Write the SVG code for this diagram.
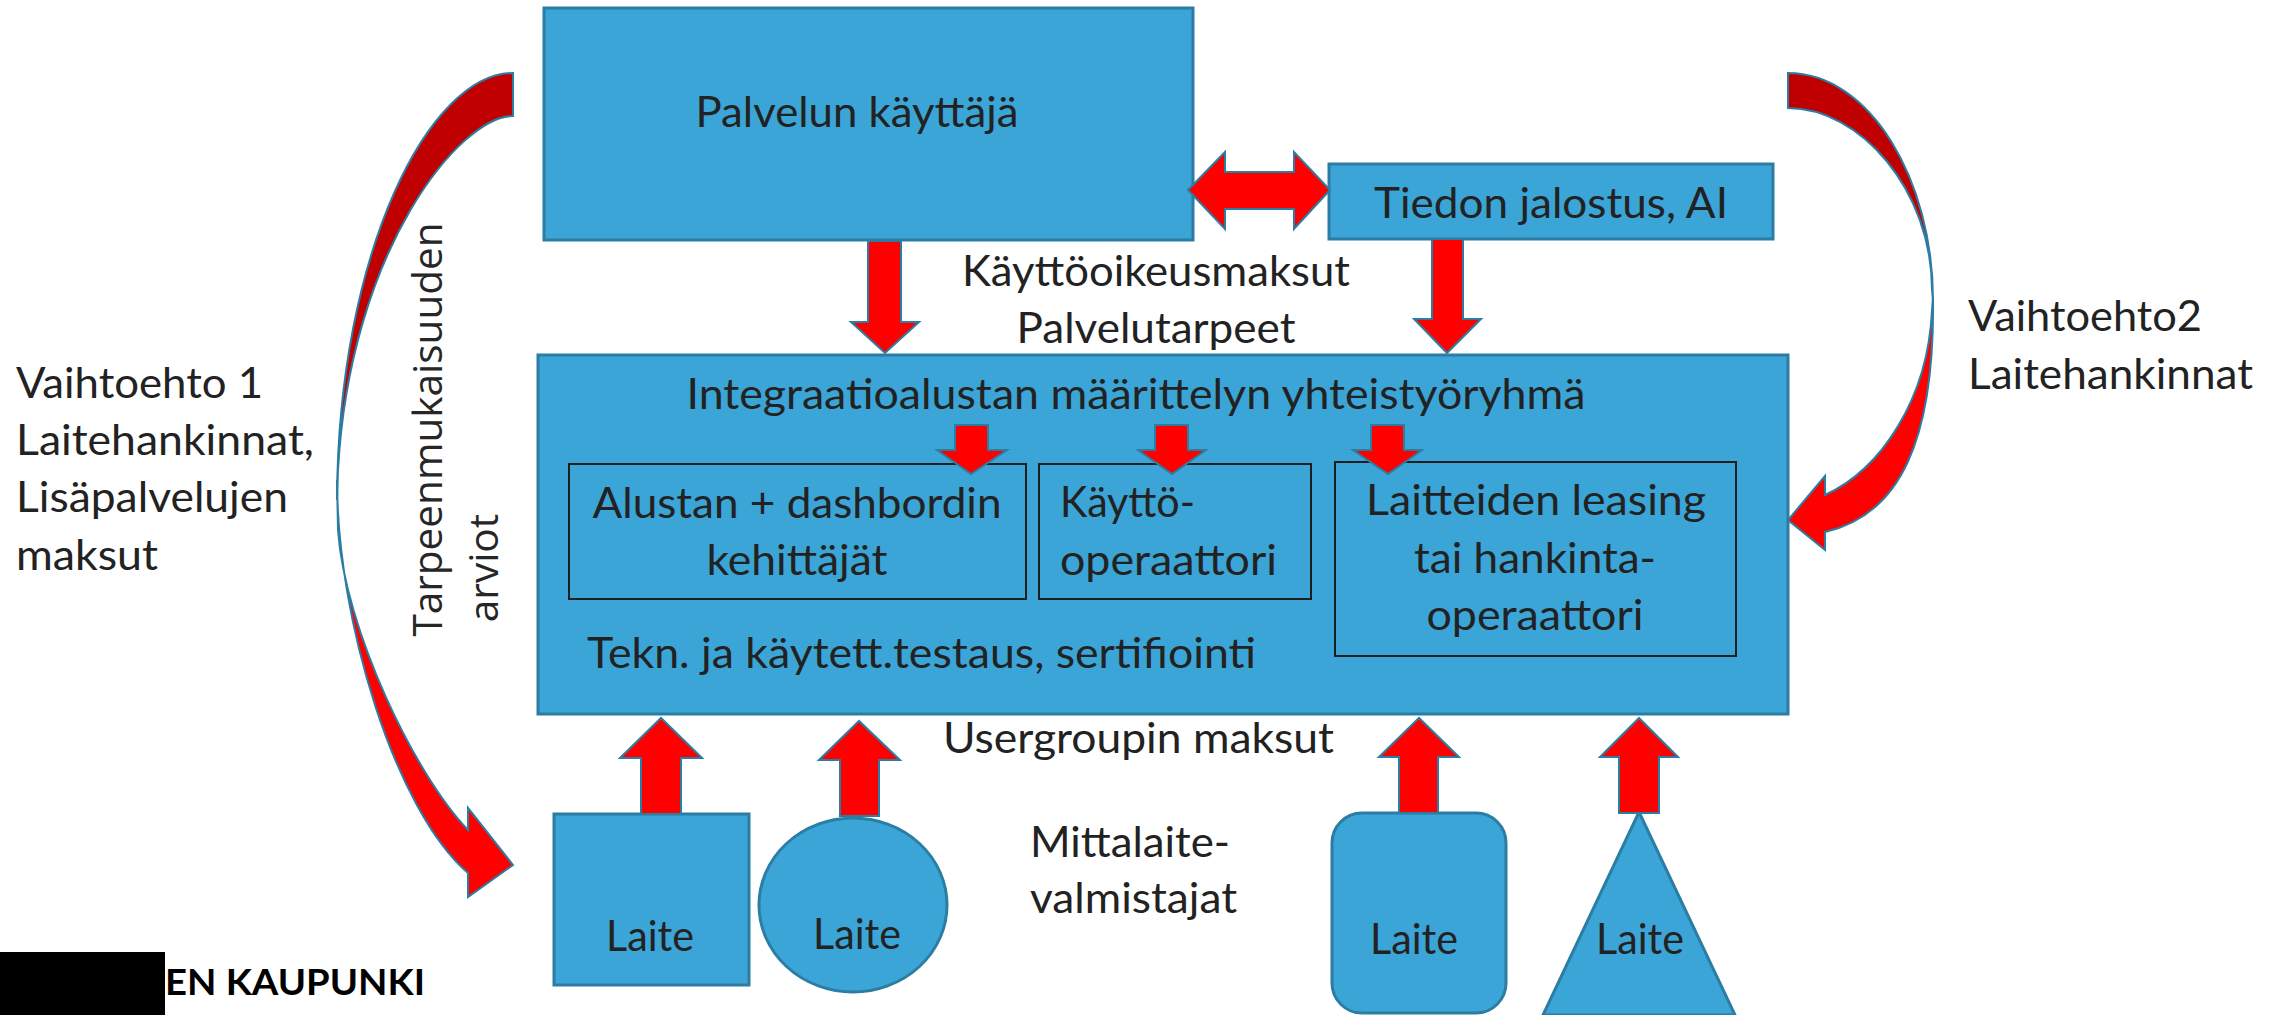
<svg xmlns="http://www.w3.org/2000/svg" width="2279" height="1015" viewBox="0 0 2279 1015">
<style>
.box{fill:#3AA5D6;stroke:#2C7DA3;stroke-width:3}
.inner{fill:none;stroke:#1E1E1E;stroke-width:2}
.arr{fill:#FF0000;stroke:#2C7DA3;stroke-width:2;stroke-linejoin:miter}
.back{fill:#C00000;stroke:#2C7DA3;stroke-width:2}
.t{font-family:Lato,"Liberation Sans",sans-serif;font-size:42px;fill:#222222}
.c{text-anchor:middle}
.v{font-family:"Open Sans","Liberation Sans",sans-serif;font-size:40.5px;fill:#262626;text-anchor:middle}
</style>
<rect width="2279" height="1015" fill="#FFFFFF"/>

<g id="palvelun-kayttaja">
<rect class="box" x="544" y="8" width="649" height="232"/>
<text class="t c" x="857" y="127" textLength="323" lengthAdjust="spacingAndGlyphs">Palvelun käyttäjä</text>
</g>

<g id="tiedon-jalostus">
<rect class="box" x="1329" y="164" width="444" height="75"/>
<text class="t c" x="1551" y="218" textLength="354" lengthAdjust="spacingAndGlyphs">Tiedon jalostus, AI</text>
</g>

<g id="integraatio">
<rect class="box" x="538" y="355" width="1250" height="359"/>
<text class="t c" x="1136" y="409" textLength="899" lengthAdjust="spacingAndGlyphs">Integraatioalustan määrittelyn yhteistyöryhmä</text>
<text class="t" x="587" y="668" textLength="669" lengthAdjust="spacingAndGlyphs">Tekn. ja käytett.testaus, sertifiointi</text>
</g>

<g id="alustan-kehittajat">
<rect class="inner" x="569" y="464" width="457" height="135"/>
<text class="t c" x="797" y="518" textLength="409" lengthAdjust="spacingAndGlyphs">Alustan + dashbordin</text>
<text class="t c" x="797" y="575" textLength="181" lengthAdjust="spacingAndGlyphs">kehittäjät</text>
</g>

<g id="kaytto-operaattori">
<rect class="inner" x="1039" y="464" width="272" height="135"/>
<text class="t" x="1060" y="517" textLength="135" lengthAdjust="spacingAndGlyphs">Käyttö-</text>
<text class="t" x="1060" y="575" textLength="217" lengthAdjust="spacingAndGlyphs">operaattori</text>
</g>

<g id="leasing-operaattori">
<rect class="inner" x="1335" y="462" width="401" height="194"/>
<text class="t c" x="1536" y="515" textLength="340" lengthAdjust="spacingAndGlyphs">Laitteiden leasing</text>
<text class="t c" x="1535" y="573" textLength="242" lengthAdjust="spacingAndGlyphs">tai hankinta-</text>
<text class="t c" x="1535" y="630" textLength="217" lengthAdjust="spacingAndGlyphs">operaattori</text>
</g>

<g id="laite-nelio">
<rect class="box" x="554" y="814" width="195" height="171"/>
<text class="t c" x="650" y="951" textLength="88" lengthAdjust="spacingAndGlyphs">Laite</text>
</g>

<g id="laite-ympyra">
<ellipse class="box" cx="853" cy="905" rx="94" ry="87"/>
<text class="t c" x="857" y="949" textLength="88" lengthAdjust="spacingAndGlyphs">Laite</text>
</g>

<g id="laite-pyoristetty">
<rect class="box" x="1332" y="813" width="174" height="200" rx="30" ry="30"/>
<text class="t c" x="1414" y="954" textLength="88" lengthAdjust="spacingAndGlyphs">Laite</text>
</g>

<g id="laite-kolmio">
<polygon class="box" points="1639,812 1735,1015 1543,1015"/>
<text class="t c" x="1640" y="954" textLength="88" lengthAdjust="spacingAndGlyphs">Laite</text>
</g>

<g id="connectors">
<polygon class="arr" points="1188,190 1225,152 1225,172 1294,172 1294,152 1330,190 1294,229 1294,209 1225,209 1225,229"/>
<polygon class="arr" points="868,241 901,241 901,322 919,322 885,353 851,322 868,322"/>
<polygon class="arr" points="1432,239 1463,239 1463,319 1481,319 1447,353 1414,319 1432,319"/>
<polygon class="arr" points="955,425 988,425 988,450 1007,450 971,474 937,450 955,450"/>
<polygon class="arr" points="1155,425 1188,425 1188,450 1206,450 1172,474 1138,450 1155,450"/>
<polygon class="arr" points="1371,425 1404,425 1404,450 1422,450 1388,474 1353,450 1371,450"/>
<polygon class="arr" points="641,814 681,814 681,758 702,758 661,718 620,758 641,758"/>
<polygon class="arr" points="840,816 879,816 879,760 900,760 859,721 819,760 840,760"/>
<polygon class="arr" points="1399,813 1438,813 1438,757 1459,757 1419,718 1379,757 1399,757"/>
<polygon class="arr" points="1619,813 1659,813 1659,757 1678,757 1639,718 1600,757 1619,757"/>
<path class="back" d="M513,73 C430,73 338,250 337,500 L338,470 C350,250 460,116 513,116 Z"/>
<path class="arr" d="M337,480 C337,620 395,810 468,873 L468,897 L513,865 L468,808 L468,830 C415,775 345,630 338,530 Z"/>
<path class="back" d="M1788,73 C1870,73 1933,180 1933,300 L1932,290 C1932,190 1860,108 1788,108 Z"/>
<path class="arr" d="M1933,297 C1935,440 1900,515 1825,532 L1825,550 L1788,520 L1825,476 L1825,495 C1880,470 1928,400 1932,310 Z"/>
</g>

<g id="labels">
<text class="t c" x="1156" y="286" textLength="388" lengthAdjust="spacingAndGlyphs">Käyttöoikeusmaksut</text>
<text class="t c" x="1156" y="343" textLength="279" lengthAdjust="spacingAndGlyphs">Palvelutarpeet</text>
<text class="t" x="943" y="753" textLength="391" lengthAdjust="spacingAndGlyphs">Usergroupin maksut</text>
<text class="t" x="1030" y="857" textLength="200" lengthAdjust="spacingAndGlyphs">Mittalaite-</text>
<text class="t" x="1030" y="913" textLength="207" lengthAdjust="spacingAndGlyphs">valmistajat</text>
<text class="t" x="16" y="398" style="font-size:43px" textLength="247" lengthAdjust="spacingAndGlyphs">Vaihtoehto 1</text>
<text class="t" x="16" y="455" style="font-size:43px" textLength="298" lengthAdjust="spacingAndGlyphs">Laitehankinnat,</text>
<text class="t" x="16" y="512" style="font-size:43px" textLength="272" lengthAdjust="spacingAndGlyphs">Lisäpalvelujen</text>
<text class="t" x="16" y="570" style="font-size:43px" textLength="142" lengthAdjust="spacingAndGlyphs">maksut</text>
<text class="t" x="1968" y="331" style="font-size:43px" textLength="234" lengthAdjust="spacingAndGlyphs">Vaihtoehto2</text>
<text class="t" x="1968" y="389" style="font-size:43px" textLength="285" lengthAdjust="spacingAndGlyphs">Laitehankinnat</text>
<text class="v" transform="translate(442,429.5) rotate(-90)">Tarpeenmukaisuuden</text>
<text class="v" transform="translate(498,568) rotate(-90)">arviot</text>
</g>

<g id="logo">
<rect x="0" y="952" width="165" height="63" fill="#000000"/>
<text x="165" y="995" textLength="260" lengthAdjust="spacingAndGlyphs" style="font-family:Lato,'Liberation Sans',sans-serif;font-weight:700;font-size:37px;fill:#000000">EN KAUPUNKI</text>
</g>
</svg>
